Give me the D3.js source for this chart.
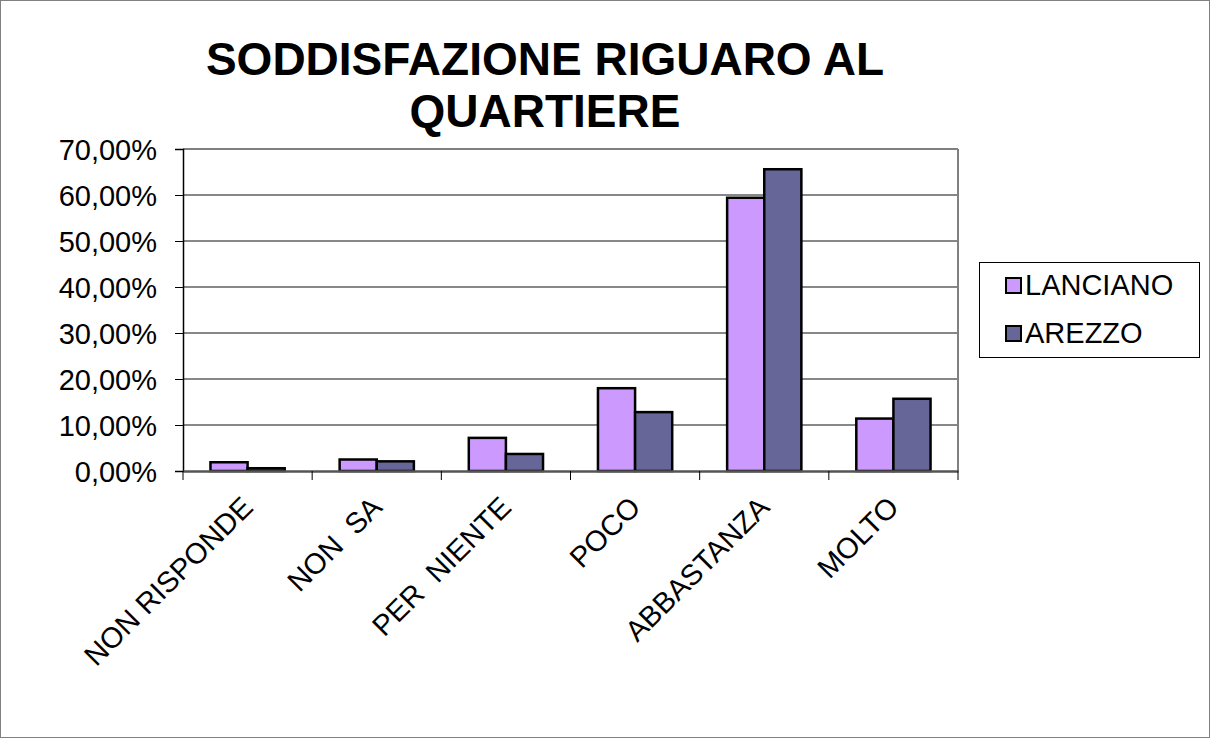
<!DOCTYPE html>
<html>
<head>
<meta charset="utf-8">
<script src="https://cdn.jsdelivr.net/npm/d3@7"></script>
<style>
  body { margin: 0; background: #fff; }
  text { font-family: "Liberation Sans", Arial, sans-serif; }
</style>
</head>
<body>
<svg id="chart" width="1210" height="738"></svg>
<script>
// ====================== DATA ======================
let categories = ["NON RISPONDE", "NON  SA", "PER  NIENTE", "POCO", "ABBASTANZA", "MOLTO"];
let seriesNames = ["LANCIANO", "AREZZO"];
let lancianoValues = [1.9, 2.5, 7.2, 18.0, 59.4, 11.4];
let arezzoValues = [0.6, 2.1, 3.7, 12.8, 65.6, 15.7];
let yTicks = [0, 10, 20, 30, 40, 50, 60, 70];
let seriesColors = ["#CC99FF", "#666699"];

// ====================== LAYOUT ======================
let width = 1210;
let height = 738;
let plotLeft = 183;
let plotRight = 958;
let plotTop = 149;
let plotBottom = 471;
let fontSize = "29px";

let svg = d3.select("#chart");

// outer frame
svg.append("rect")
  .attr("x", 0.5).attr("y", 0.5)
  .attr("width", width - 1).attr("height", height - 1)
  .attr("fill", "#fff")
  .attr("stroke", "#808080");

let xScale = d3.scaleBand()
  .domain(categories)
  .range([plotLeft, plotRight])
  .paddingInner(0)
  .paddingOuter(0);

let xInner = d3.scaleBand()
  .domain(seriesNames)
  .range([0, xScale.bandwidth()])
  .paddingOuter(0.74)
  .paddingInner(0);

let yScale = d3.scaleLinear()
  .domain([0, 70])
  .range([plotBottom, plotTop]);

// grid lines
svg.append("g")
  .selectAll("line")
  .data(yTicks.slice(1))
  .enter()
  .append("line")
  .attr("x1", plotLeft).attr("x2", plotRight)
  .attr("y1", d => yScale(d)).attr("y2", d => yScale(d))
  .attr("stroke", d => d === 70 ? "#808080" : "#111")
  .attr("stroke-width", d => d === 70 ? 2 : 1);

// right border of plot area
svg.append("line")
  .attr("x1", plotRight).attr("x2", plotRight)
  .attr("y1", plotTop).attr("y2", plotBottom)
  .attr("stroke", "#808080").attr("stroke-width", 2);

// bars
let rows = categories.map((c, i) => ({ cat: c, values: [lancianoValues[i], arezzoValues[i]] }));
svg.append("g")
  .selectAll("g")
  .data(rows)
  .enter()
  .append("g")
  .attr("transform", d => `translate(${xScale(d.cat)},0)`)
  .selectAll("rect")
  .data(d => d.values.map((v, j) => ({ name: seriesNames[j], value: v, color: seriesColors[j] })))
  .enter()
  .append("rect")
  .attr("x", d => xInner(d.name))
  .attr("y", d => yScale(d.value))
  .attr("width", xInner.bandwidth())
  .attr("height", d => plotBottom - yScale(d.value))
  .attr("fill", d => d.color)
  .attr("stroke", "#000")
  .attr("stroke-width", 2.5);

// y axis
let yAxis = svg.append("g")
  .attr("transform", `translate(${plotLeft},0)`)
  .call(d3.axisLeft(yScale).tickValues(yTicks).tickSize(8).tickPadding(18)
    .tickFormat(d => d3.format(".2f")(d).replace(".", ",") + "%"));
yAxis.select(".domain").attr("stroke", "#000").attr("stroke-width", 1.5);
yAxis.selectAll(".tick line").attr("stroke", "#000");
yAxis.selectAll("text")
  .attr("fill", "#000")
  .style("font-size", fontSize)
  .attr("dy", "0.36em");

// x axis
let xAxis = svg.append("g")
  .attr("transform", `translate(0,${plotBottom})`)
  .call(d3.axisBottom(xScale).tickSize(0).tickFormat(""));
xAxis.select(".domain").attr("stroke", "#555").attr("stroke-width", 2.5);
xAxis.selectAll(".tick").remove();

// x ticks at band edges
let edges = categories.map(c => xScale(c)).concat([plotRight]);
svg.append("g")
  .selectAll("line")
  .data(edges)
  .enter()
  .append("line")
  .attr("x1", d => d).attr("x2", d => d)
  .attr("y1", plotBottom).attr("y2", plotBottom + 9)
  .attr("stroke", "#000");

// x labels (rotated)
svg.append("g")
  .selectAll("text")
  .data(categories)
  .enter()
  .append("text")
  .attr("transform", d => `translate(${xScale(d) + xScale.bandwidth() / 2 + 7},${plotBottom + 38}) rotate(-45)`)
  .attr("text-anchor", "end")
  .style("font-size", fontSize)
  .style("white-space", "pre")
  .attr("fill", "#000")
  .text(d => d);

// title
let titleLines = ["SODDISFAZIONE RIGUARO AL", "QUARTIERE"];
svg.append("g")
  .selectAll("text")
  .data(titleLines)
  .enter()
  .append("text")
  .attr("x", 545)
  .attr("y", (d, i) => 75 + i * 52)
  .attr("text-anchor", "middle")
  .style("font-size", "46px")
  .style("font-weight", "bold")
  .attr("fill", "#000")
  .text(d => d);

// legend
let legend = svg.append("g").attr("transform", "translate(979,262)");
legend.append("rect")
  .attr("x", 0.5).attr("y", 0.5)
  .attr("width", 220).attr("height", 95)
  .attr("fill", "#fff")
  .attr("stroke", "#000");
let legendItems = legend.selectAll("g.item")
  .data(seriesNames)
  .enter()
  .append("g")
  .attr("class", "item")
  .attr("transform", (d, i) => `translate(27,${16 + i * 48})`);
legendItems.append("rect")
  .attr("width", 15).attr("height", 15)
  .attr("fill", (d, i) => seriesColors[i])
  .attr("stroke", "#000")
  .attr("stroke-width", 2);
legendItems.append("text")
  .attr("x", 19)
  .attr("y", 17)
  .style("font-size", fontSize)
  .attr("fill", "#000")
  .text(d => d);
</script>
</body>
</html>
